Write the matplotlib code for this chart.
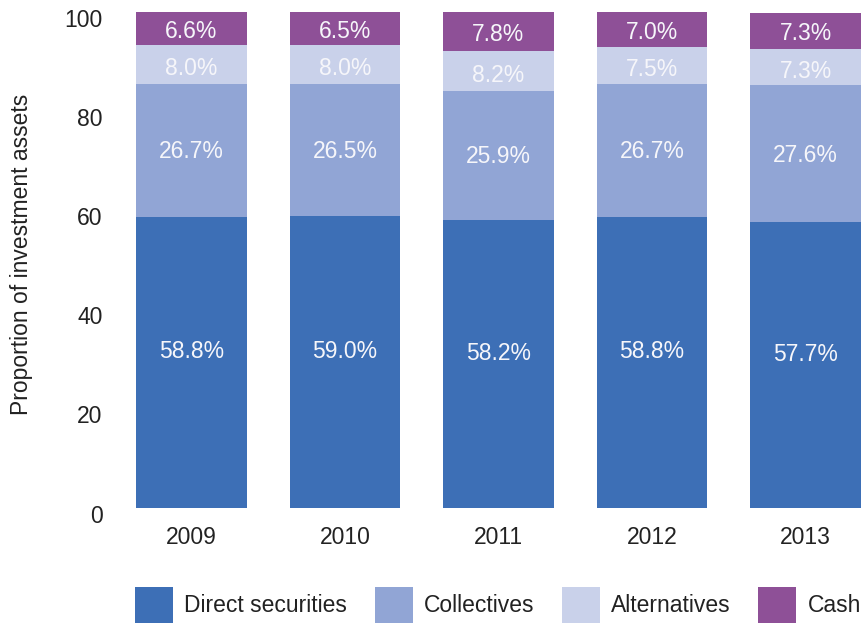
import matplotlib
matplotlib.use("Agg")
import matplotlib.pyplot as plt
from matplotlib.transforms import offset_copy, ScaledTranslation
import numpy as np

years = ["2009", "2010", "2011", "2012", "2013"]
direct = [58.8, 59.0, 58.2, 58.8, 57.7]
collectives = [26.7, 26.5, 25.9, 26.7, 27.6]
alternatives = [8.0, 8.0, 8.2, 7.5, 7.3]
cash = [6.6, 6.5, 7.8, 7.0, 7.3]
series_names = ["Direct securities", "Collectives", "Alternatives", "Cash"]
colors = ["#3D6FB6", "#91A5D5", "#C9D1EA", "#8E5097"]
yticks = [0, 20, 40, 60, 80, 100]

plt.rcParams["font.family"] = ["Liberation Sans", "DejaVu Sans"]

FS = 16.5
TXT = "#222222"
fig = plt.figure(figsize=(8.65, 6.24), dpi=100)
ax = fig.add_axes([136 / 865, 116 / 624, (861 - 136) / 865, (611.5 - 116) / 624])

# vertical nudge (points) of the value labels within each segment
label_shift = [7.5, -1.0, -3.0, -2.0]

x = np.arange(len(years))
width = 0.723
bottom = np.zeros(len(years))
for name, vals, col, dy in zip(series_names, [direct, collectives, alternatives, cash],
                               colors, label_shift):
    vals = np.array(vals)
    ax.bar(x, vals, width, bottom=bottom, color=col, label=name, clip_on=False, linewidth=0)
    tr = offset_copy(ax.transData, fig=fig, x=0, y=dy, units="points")
    for xi, b, v in zip(x, bottom, vals):
        ax.text(xi, b + v / 2, f"{v:.1f}%", ha="center", va="center",
                color="#F6F6FA", fontsize=FS, transform=tr)
    bottom += vals

ax.set_xlim(-width / 2, len(years) - 1 + width / 2)
ax.set_ylim(0, 100)
ax.set_xticks(x)
ax.set_xticklabels(years)
ax.set_yticks(yticks)
ax.tick_params(axis="both", length=0, labelsize=FS, colors=TXT)
ax.tick_params(axis="y", pad=24)
ax.tick_params(axis="x", pad=13)
# drop the y tick labels a few pixels below their gridline value
down = ScaledTranslation(0, -4 / 72, fig.dpi_scale_trans)
for t in ax.yaxis.get_major_ticks():
    t.label1.set_transform(t.label1.get_transform() + down)
for s in ax.spines.values():
    s.set_visible(False)
fig.text(22 / 865, 1 - 254 / 624, "Proportion of investment assets", rotation=90,
         ha="center", va="center", fontsize=FS, color=TXT)

handles, labels = ax.get_legend_handles_labels()
fig.legend(handles, labels, loc="lower left", bbox_to_anchor=(134 / 865, 0.0), ncol=4,
           frameon=False, fontsize=FS, handlelength=1.65, handleheight=2.0,
           handletextpad=0.5, columnspacing=1.2, borderaxespad=0.0, borderpad=0.05,
           labelcolor=TXT)

fig.savefig("out.png", dpi=100)
